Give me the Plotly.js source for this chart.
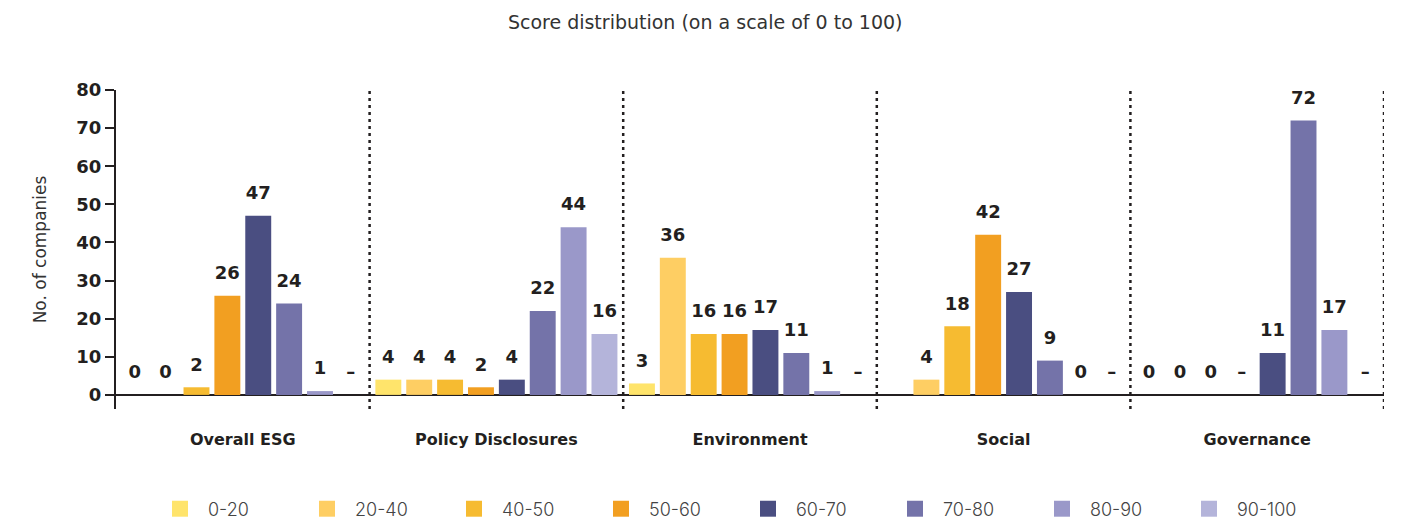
<!DOCTYPE html>
<html><head><meta charset="utf-8">
<script src="https://cdn.plot.ly/plotly-3.0.1.min.js"></script>
<style>html,body{margin:0;padding:0;background:#fff}#chart{width:1402px;height:521px}</style>
</head><body><div id="chart"></div>
<script>
const categories = ['Overall ESG', 'Policy Disclosures', 'Environment', 'Social', 'Governance'];
const bands = ['0-20', '20-40', '40-50', '50-60', '60-70', '70-80', '80-90', '90-100'];
// numbers = companies; '–' = shown as a dash; null = nothing shown
const v0_20   = [0, 4, 3, null, 0];
const v20_40  = [0, 4, 36, 4, 0];
const v40_50  = [2, 4, 16, 18, 0];
const v50_60  = [26, 2, 16, 42, '–'];
const v60_70  = [47, 4, 17, 27, 11];
const v70_80  = [24, 22, 11, 9, 72];
const v80_90  = [1, 44, 1, 0, 17];
const v90_100 = ['–', 16, '–', '–', '–'];
const seriesValues = [v0_20, v20_40, v40_50, v50_60, v60_70, v70_80, v80_90, v90_100];
const colors = ['#FFE46B', '#FECE63', '#F6BB31', '#F29F21', '#4A4E81', '#7473A9', '#9A98C9', '#B4B4DA'];

const FONT = '"DejaVu Sans", "Open Sans", sans-serif';
const LFONT = 'Inter, "Open Sans", sans-serif';
const DARK = '#231f20';
const traces = [];
seriesValues.forEach((vals, i) => {
  traces.push({
    type: 'bar', name: bands[i], x: categories,
    y: vals.map(v => typeof v === 'number' ? v : null),
    marker: {color: colors[i]}, showlegend: false,
    offsetgroup: bands[i], alignmentgroup: 'bars', hoverinfo: 'skip'
  });
});
seriesValues.forEach((vals, i) => {
  traces.push({
    type: 'scatter', mode: 'markers+text', name: bands[i] + ' labels', x: categories,
    y: vals.map(v => v === null ? null : (typeof v === 'number' ? v : 0)),
    text: vals.map(v => v === null ? '' : String(v)),
    textposition: 'top center',
    textfont: {family: FONT, size: 18, color: DARK, weight: 700},
    marker: {size: 18, color: 'rgba(0,0,0,0)'},
    showlegend: false, cliponaxis: false, hoverinfo: 'skip',
    offsetgroup: bands[i], alignmentgroup: 'labels'
  });
});
bands.forEach((b, i) => {
  traces.push({
    type: 'scatter', mode: 'markers', name: b, x: [null], y: [null],
    marker: {symbol: 'square', size: 16, color: colors[i]},
    offsetgroup: 'leg' + i, alignmentgroup: 'legend', hoverinfo: 'skip'
  });
});

const shapes = [0.5, 1.5, 2.5, 3.5, 4.5].map(x => ({
  type: 'line', xref: 'x', yref: 'paper', x0: x, x1: x, y0: 0, y1: 1,
  line: {color: DARK, width: 2.5, dash: '3px,4px'}
}));

const layout = {
  width: 1402, height: 521,
  margin: {l: 116, r: 18, t: 90, b: 112},
  paper_bgcolor: '#fff', plot_bgcolor: '#fff',
  font: {family: FONT, color: DARK},
  title: {text: 'Score distribution (on a scale of 0 to 100)', font: {family: FONT, size: 19, color: '#333'},
          x: 0.503, xref: 'container', y: 1 - 22 / 521, yref: 'container', yanchor: 'middle'},
  barmode: 'group', bargap: 0.026, bargroupgap: 0.16,
  scattermode: 'group', scattergap: 0.026,
  xaxis: {type: 'category', range: [-0.5, 4.5], showline: false, showgrid: false, zeroline: false,
          ticks: '', ticklabelstandoff: 19, tickfont: {family: FONT, size: 16, color: DARK, weight: 700},
          fixedrange: true},
  yaxis: {range: [-3.7, 80], tickvals: [0, 10, 20, 30, 40, 50, 60, 70, 80], showgrid: false,
          showline: true, linecolor: DARK, linewidth: 2,
          zeroline: true, zerolinecolor: DARK, zerolinewidth: 2,
          ticks: 'outside', ticklen: 9, tickwidth: 2, tickcolor: DARK,
          tickfont: {family: FONT, size: 18, color: DARK, weight: 700},
          title: {text: 'No. of companies', font: {family: FONT, size: 17, color: '#333'}, standoff: 25},
          fixedrange: true},
  legend: {orientation: 'h', x: 152 / 1402, xref: 'container', xanchor: 'left',
           y: 1 - 509 / 521, yref: 'container', yanchor: 'middle',
           itemwidth: 46, entrywidth: 86, entrywidthmode: 'pixels',
           font: {family: LFONT, size: 18, color: '#444', weight: 300}, bgcolor: 'rgba(0,0,0,0)'},
  shapes: shapes,
  showlegend: true
};
Plotly.newPlot('chart', traces, layout, {displayModeBar: false, staticPlot: true});
</script>
</body></html>
